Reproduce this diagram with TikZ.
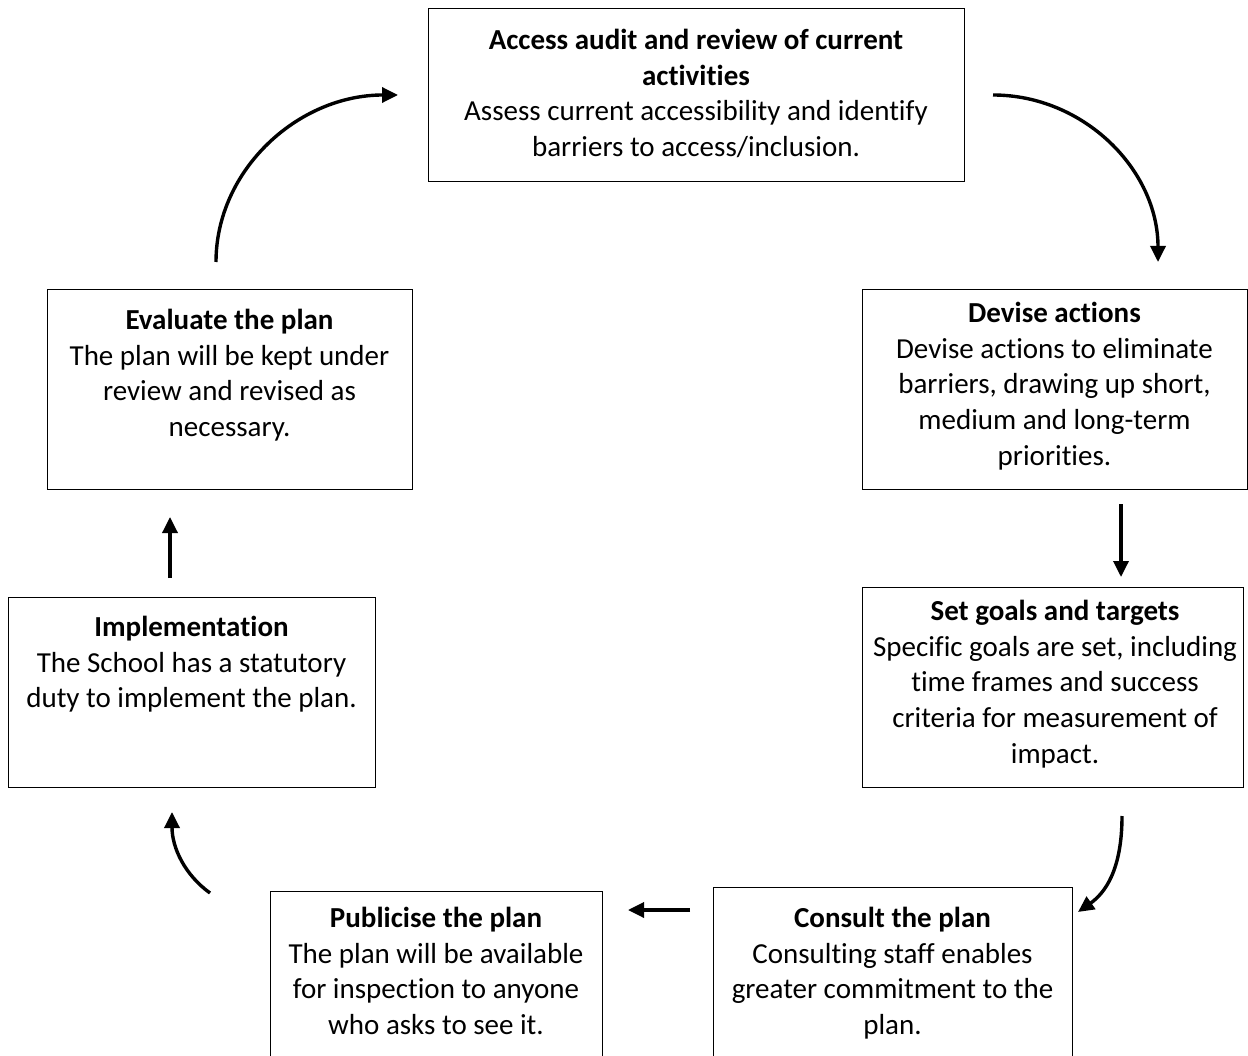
\documentclass[tikz,border=0pt]{standalone}
\usepackage{fontspec}
\setmainfont{Carlito}[Ligatures={NoCommon}]
\usetikzlibrary{arrows.meta}
\begin{document}
\begin{tikzpicture}[x=1pt,y=-1pt,
  boxline/.style={draw=black,line width=1.4pt},
  txt/.style={anchor=north,align=center,inner sep=0pt,font=\fontsize{29}{35.7}\selectfont},
  flow/.style={line width=3.4pt,-{Triangle[length=16pt,width=15pt]}}]
\useasboundingbox (0,0) rectangle (1248,1056);
% boxes
\node[boxline,anchor=north west,minimum width=536pt,minimum height=173pt] (bTop) at (428,8) {};
\node[boxline,anchor=north west,minimum width=385pt,minimum height=200pt] (bDev) at (862,289) {};
\node[boxline,anchor=north west,minimum width=381pt,minimum height=200pt] (bSet) at (862,587) {};
\node[boxline,anchor=north west,minimum width=359pt,minimum height=175pt] (bCon) at (713,887) {};
\node[boxline,anchor=north west,minimum width=332pt,minimum height=171pt] (bPub) at (270,891) {};
\node[boxline,anchor=north west,minimum width=367pt,minimum height=190pt] (bImp) at (8,597) {};
\node[boxline,anchor=north west,minimum width=365pt,minimum height=200pt] (bEva) at (47,289) {};
% texts
\node[txt] (tTop) at (696,29) {\textbf{Access audit and review of current}\\\textbf{activities}\\Assess current accessibility and identify\\barriers to access/inclusion.};
\node[txt] (tDev) at (1054.5,302) {\textbf{Devise actions}\\Devise actions to eliminate\\barriers, drawing up short,\\medium and long-term\\priorities.};
\node[txt] (tSet) at (1055,600) {\textbf{Set goals and targets}\\Specific goals are set, including\\time frames and success\\criteria for measurement of\\impact.};
\node[txt] (tCon) at (892.5,907) {\textbf{Consult the plan}\\Consulting staff enables\\greater commitment to the\\plan.};
\node[txt] (tPub) at (436,907) {\textbf{Publicise the plan}\\The plan will be available\\for inspection to anyone\\who asks to see it.};
\node[txt] (tImp) at (191.5,616) {\textbf{Implementation}\\The School has a statutory\\duty to implement the plan.};
\node[txt] (tEva) at (229.5,309) {\textbf{Evaluate the plan}\\The plan will be kept under\\review and revised as\\necessary.};
% connector end points
\coordinate (a1s) at (993,95);   \coordinate (a1e) at (1158,262);
\coordinate (a2s) at (216,262);  \coordinate (a2e) at (398,95);
\coordinate (a3s) at (1121,504); \coordinate (a3e) at (1121,577);
\coordinate (a4s) at (1122,816); \coordinate (a4e) at (1078,912);
\coordinate (a5s) at (690,910);  \coordinate (a5e) at (628,910);
\coordinate (a6s) at (210,893);  \coordinate (a6e) at (172,812);
\coordinate (a7s) at (170,578);  \coordinate (a7e) at (170,517);
% connectors
\draw[flow] (a1s) .. controls (1084,95) and (1158,170) .. (a1e);
\draw[flow] (a2s) .. controls (216,170) and (298,95) .. (a2e);
\draw[flow] (a3s) -- (a3e);
\draw[flow] (a4s) .. controls (1122,870) and (1105,893) .. (a4e);
\draw[flow] (a5s) -- (a5e);
\draw[flow] (a6s) .. controls (185,875) and (172,848) .. (a6e);
\draw[flow] (a7s) -- (a7e);
\end{tikzpicture}
\end{document}
